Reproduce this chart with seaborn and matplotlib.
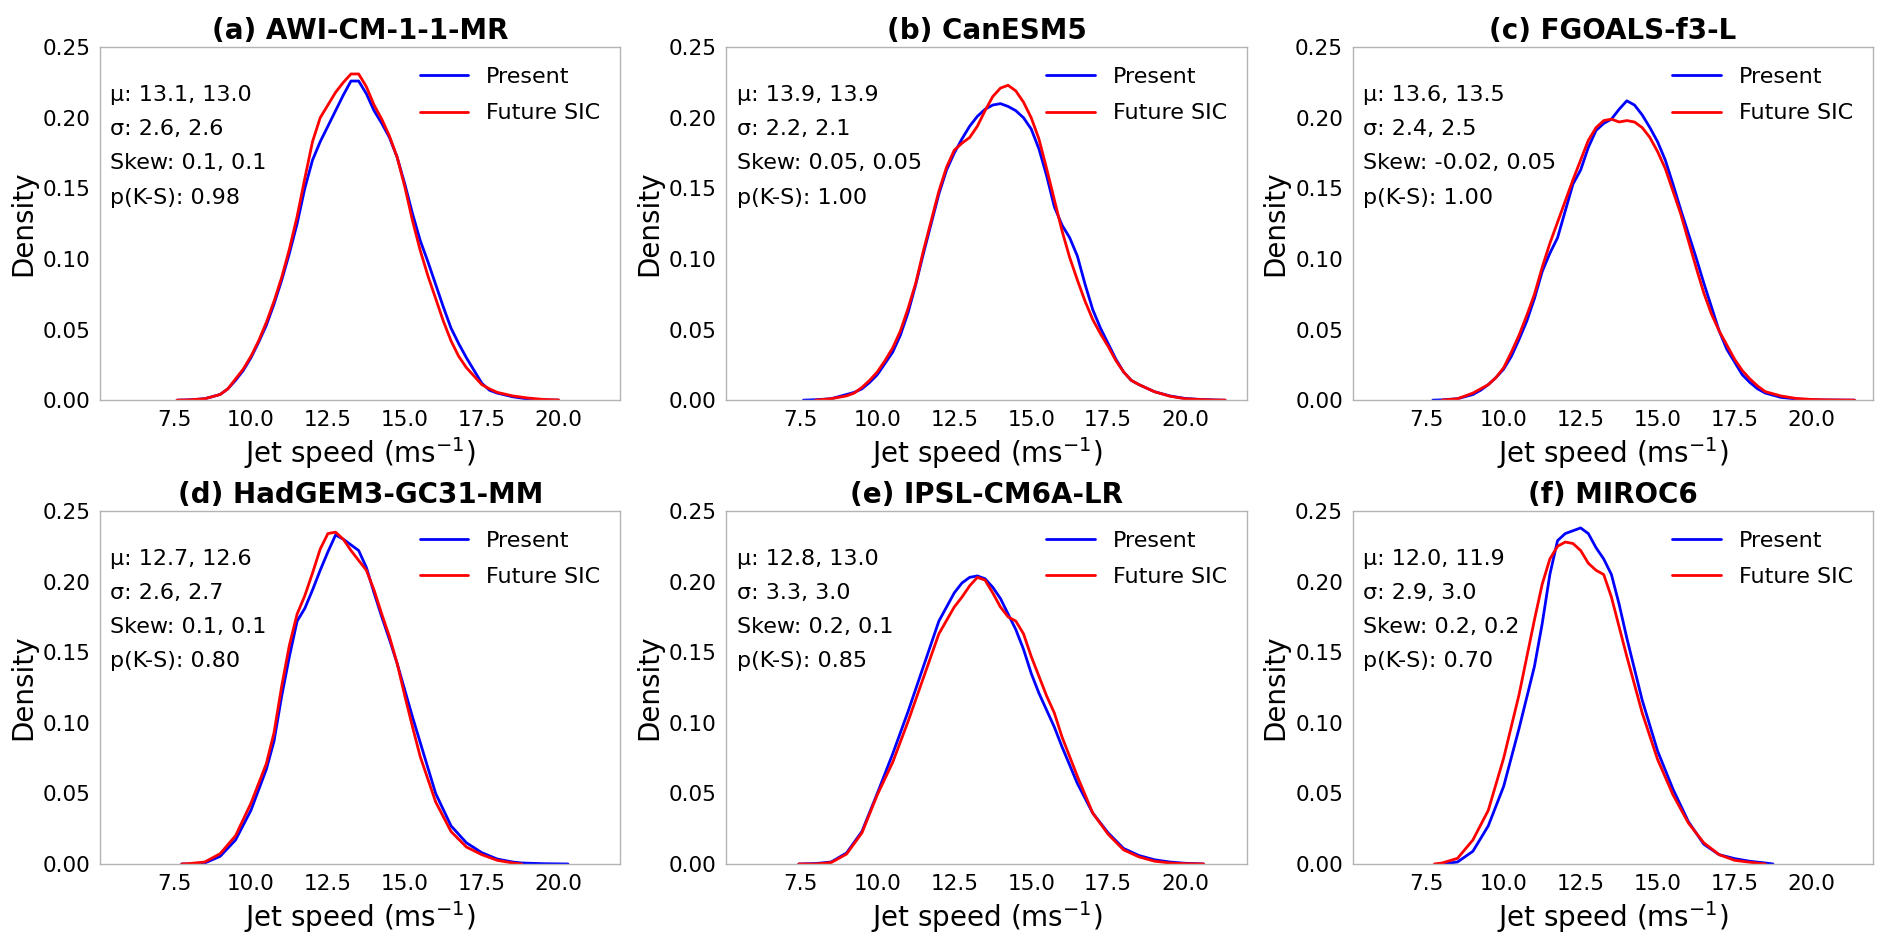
import numpy as np
import pandas as pd
import matplotlib
matplotlib.use("Agg")
import matplotlib.pyplot as plt
import seaborn as sns

nan = np.nan

# DATA (densities)
titles = ["(a) AWI-CM-1-1-MR", "(b) CanESM5", "(c) FGOALS-f3-L",
          "(d) HadGEM3-GC31-MM", "(e) IPSL-CM6A-LR", "(f) MIROC6"]

mu_present = ["13.1", "13.9", "13.6", "12.7", "12.8", "12.0"]
mu_future = ["13.0", "13.9", "13.5", "12.6", "13.0", "11.9"]
sd_present = ["2.6", "2.2", "2.4", "2.6", "3.3", "2.9"]
sd_future = ["2.6", "2.1", "2.5", "2.7", "3.0", "3.0"]
skew_present = ["0.1", "0.05", "-0.02", "0.1", "0.2", "0.2"]
skew_future = ["0.1", "0.05", "0.05", "0.1", "0.1", "0.2"]
p_ks = ["0.98", "1.00", "1.00", "0.80", "0.85", "0.70"]

#(a) AWI-CM-1-1-MR
a_x = [7.6, 8.0, 8.5, 9.0, 9.25, 9.5, 9.75, 10.0, 10.25, 10.5, 10.75, 11.0, 11.25, 11.5, 11.75,
       12.0, 12.25, 12.5, 12.75, 13.0, 13.25, 13.5, 13.75, 14.0, 14.25, 14.5, 14.75, 15.0, 15.25,
       15.5, 15.75, 16.0, 16.25, 16.5, 16.75, 17.0, 17.25, 17.5, 17.75, 18.0, 18.5, 19.0, 19.5, 20.0]
a_present = [0, 0.0002, 0.001, 0.004, 0.008, 0.014, 0.021, 0.030, 0.041, 0.053, 0.068, 0.085, 0.104,
             0.125, 0.150, 0.170, 0.183, 0.194, 0.205, 0.216, 0.226, 0.226, 0.217, 0.205, 0.196,
             0.186, 0.172, 0.153, 0.132, 0.113, 0.098, 0.082, 0.066, 0.051, 0.040, 0.030, 0.021,
             0.012, 0.007, 0.005, 0.0024, 0.0008, 0.0002, 0]
a_future = [0, 0.0002, 0.001, 0.004, 0.008, 0.015, 0.022, 0.031, 0.042, 0.055, 0.070, 0.087, 0.107,
            0.130, 0.157, 0.183, 0.200, 0.209, 0.218, 0.225, 0.231, 0.231, 0.222, 0.209, 0.199,
            0.187, 0.172, 0.151, 0.127, 0.106, 0.088, 0.072, 0.056, 0.042, 0.031, 0.023, 0.017,
            0.011, 0.008, 0.0055, 0.003, 0.0015, 0.0005, 0.0001]

#(b) CanESM5
b_x = [7.6, 8.0, 8.5, 9.0, 9.25, 9.5, 9.75, 10.0, 10.25, 10.5, 10.75, 11.0, 11.25, 11.5, 11.75,
       12.0, 12.25, 12.5, 12.75, 13.0, 13.25, 13.5, 13.75, 14.0, 14.25, 14.5, 14.75, 15.0, 15.25,
       15.5, 15.75, 16.0, 16.25, 16.5, 16.75, 17.0, 17.25, 17.5, 17.75, 18.0, 18.25, 18.5, 19.0,
       19.5, 20.0, 20.5, 21.0, 21.3]
b_present = [0, 0.0003, 0.001, 0.004, 0.0055, 0.008, 0.0125, 0.018, 0.026, 0.034, 0.046, 0.062,
             0.082, 0.104, 0.125, 0.146, 0.163, 0.175, 0.185, 0.194, 0.201, 0.206, 0.209, 0.210,
             0.208, 0.205, 0.200, 0.192, 0.178, 0.159, 0.137, 0.124, 0.115, 0.102, 0.082, 0.064,
             0.051, 0.040, 0.029, 0.020, 0.014, 0.011, 0.006, 0.003, 0.0012, 0.0005, 0.0001, 0]
b_future = [nan, 0, 0.001, 0.003, 0.005, 0.009, 0.014, 0.020, 0.028, 0.037, 0.049, 0.065, 0.083,
            0.106, 0.127, 0.148, 0.165, 0.177, 0.182, 0.186, 0.194, 0.205, 0.215, 0.221, 0.223,
            0.219, 0.211, 0.200, 0.185, 0.164, 0.142, 0.120, 0.101, 0.085, 0.070, 0.057, 0.047,
            0.038, 0.028, 0.020, 0.014, 0.011, 0.006, 0.0028, 0.001, 0.0004, 0.0001, 0]

#(c) FGOALS-f3-L
c_x = [7.7, 8.0, 8.5, 9.0, 9.25, 9.5, 9.75, 10.0, 10.25, 10.5, 10.75, 11.0, 11.25, 11.5, 11.75,
       12.0, 12.25, 12.5, 12.75, 13.0, 13.25, 13.5, 13.75, 14.0, 14.25, 14.5, 14.75, 15.0, 15.25,
       15.5, 15.75, 16.0, 16.25, 16.5, 16.75, 17.0, 17.25, 17.5, 17.75, 18.0, 18.25, 18.5, 19.0,
       19.5, 20.0, 20.5, 21.4]
c_present = [0, 0.0002, 0.001, 0.004, 0.007, 0.011, 0.016, 0.022, 0.031, 0.043, 0.056, 0.072,
             0.091, 0.104, 0.115, 0.134, 0.153, 0.163, 0.179, 0.191, 0.196, 0.199, 0.206, 0.212,
             0.209, 0.202, 0.193, 0.183, 0.170, 0.153, 0.135, 0.118, 0.101, 0.083, 0.066, 0.049,
             0.036, 0.027, 0.018, 0.0125, 0.008, 0.005, 0.002, 0.0008, 0.0003, 0.0001, 0]
c_future = [nan, 0, 0.001, 0.005, 0.008, 0.011, 0.016, 0.023, 0.034, 0.046, 0.060, 0.075, 0.094,
            0.111, 0.126, 0.141, 0.156, 0.170, 0.184, 0.193, 0.198, 0.199, 0.197, 0.198, 0.197,
            0.193, 0.186, 0.176, 0.164, 0.148, 0.132, 0.113, 0.094, 0.076, 0.061, 0.049, 0.039,
            0.029, 0.021, 0.015, 0.010, 0.006, 0.003, 0.0012, 0.0005, 0.0002, 0]

#(d) HadGEM3-GC31-MM
d_x = [7.75, 8.0, 8.5, 9.0, 9.5, 10.0, 10.5, 10.75, 11.0, 11.25, 11.5, 11.75, 12.0, 12.25, 12.5,
       12.75, 13.0, 13.25, 13.5, 13.75, 14.0, 14.25, 14.5, 14.75, 15.0, 15.25, 15.5, 16.0, 16.5,
       17.0, 17.5, 18.0, 18.5, 18.8, 19.5, 20.3]
d_present = [0, 0, 0.0007, 0.0054, 0.017, 0.038, 0.067, 0.087, 0.119, 0.147, 0.172, 0.181, 0.194,
             0.208, 0.221, 0.233, 0.230, 0.226, 0.222, 0.210, 0.192, 0.175, 0.159, 0.142, 0.123,
             0.104, 0.086, 0.050, 0.027, 0.015, 0.008, 0.0035, 0.0014, 0.0007, 0.0002, 0]
d_future = [0, 0.0003, 0.0014, 0.0073, 0.020, 0.043, 0.071, 0.093, 0.126, 0.155, 0.177, 0.190,
            0.206, 0.223, 0.234, 0.235, 0.230, 0.222, 0.215, 0.208, 0.194, 0.177, 0.161, 0.142,
            0.119, 0.097, 0.076, 0.044, 0.023, 0.012, 0.0066, 0.0026, 0.0007, 0, nan, nan]

#(e) IPSL-CM6A-LR
e_x = [7.45, 8.0, 8.5, 9.0, 9.5, 10.0, 10.5, 11.0, 11.5, 12.0, 12.5, 12.75, 13.0, 13.25, 13.5,
       13.75, 14.0, 14.25, 14.5, 14.75, 15.0, 15.25, 15.5, 15.75, 16.0, 16.5, 17.0, 17.5, 18.0,
       18.5, 19.0, 19.5, 20.0, 20.6]
e_present = [0, 0.0003, 0.0014, 0.0078, 0.023, 0.050, 0.078, 0.108, 0.140, 0.172, 0.192, 0.199,
             0.203, 0.204, 0.202, 0.196, 0.188, 0.177, 0.166, 0.152, 0.135, 0.121, 0.109, 0.097,
             0.083, 0.057, 0.036, 0.022, 0.011, 0.006, 0.003, 0.0014, 0.0005, 0]
e_future = [0, 0, 0.001, 0.007, 0.022, 0.049, 0.072, 0.101, 0.132, 0.163, 0.182, 0.189, 0.197,
            0.203, 0.201, 0.192, 0.182, 0.175, 0.172, 0.163, 0.147, 0.133, 0.119, 0.107, 0.090,
            0.062, 0.036, 0.021, 0.010, 0.005, 0.002, 0.0007, 0.0002, 0]

#(f) MIROC6
f_x = [7.75, 8.0, 8.5, 9.0, 9.5, 10.0, 10.5, 11.0, 11.25, 11.5, 11.75, 12.0, 12.25, 12.5, 12.75,
       13.0, 13.25, 13.5, 13.75, 14.0, 14.5, 15.0, 15.5, 16.0, 16.5, 17.0, 17.5, 18.0, 18.5, 18.75]
f_present = [nan, 0, 0.0014, 0.009, 0.027, 0.055, 0.096, 0.140, 0.170, 0.205, 0.229, 0.234,
             0.236, 0.238, 0.234, 0.224, 0.216, 0.205, 0.184, 0.160, 0.116, 0.080, 0.053, 0.030,
             0.014, 0.0066, 0.0038, 0.0019, 0.0007, 0]
f_future = [0, 0.0007, 0.004, 0.017, 0.038, 0.075, 0.120, 0.173, 0.198, 0.216, 0.225, 0.228,
            0.227, 0.222, 0.213, 0.208, 0.205, 0.189, 0.168, 0.147, 0.107, 0.074, 0.049, 0.029,
            0.015, 0.0066, 0.0026, 0.0012, 0, nan]

xs = [a_x, b_x, c_x, d_x, e_x, f_x]
present = [a_present, b_present, c_present, d_present, e_present, f_present]
future = [a_future, b_future, c_future, d_future, e_future, f_future]

#PLOTTING
sns.set_style("white", {"axes.edgecolor": "#b3b3b3", "text.color": "black",
                        "axes.labelcolor": "black", "xtick.color": "black",
                        "ytick.color": "black"})
plt.rcParams['font.family'] = ['DejaVu Sans']
plt.rcParams['axes.linewidth'] = 1.0

fig, axes = plt.subplots(2, 3, figsize=(18.92, 9.43), dpi=100)
fig.subplots_adjust(left=0.0529, right=0.990, top=0.950, bottom=0.0838, wspace=0.204, hspace=0.314)

for i, ax in enumerate(axes.flat):
    df = pd.concat([
        pd.DataFrame({"speed": xs[i], "density": present[i], "run": "Present"}),
        pd.DataFrame({"speed": xs[i], "density": future[i], "run": "Future SIC"}),
    ], ignore_index=True)
    sns.lineplot(data=df, x="speed", y="density", hue="run",
                 palette={"Present": "blue", "Future SIC": "red"},
                 linewidth=2, ax=ax)
    sns.move_legend(ax, "upper right", title=None, frameon=False, fontsize=16,
                    labelspacing=0.73, handlelength=2.2)

    stats = (f"μ: {mu_present[i]}, {mu_future[i]}\n"
             f"σ: {sd_present[i]}, {sd_future[i]}\n"
             f"Skew: {skew_present[i]}, {skew_future[i]}\n"
             f"p(K-S): {p_ks[i]}")
    ax.text(0.02, 0.892, stats, transform=ax.transAxes, va="top", ha="left",
            fontsize=16, linespacing=1.88)

    ax.set_title(titles[i], fontsize=20, fontweight="bold")
    ax.set_xlabel("Jet speed (ms$^{-1}$)", fontsize=20)
    ax.set_ylabel("Density", fontsize=20)
    ax.set_xlim(5.1, 22.0)
    ax.set_ylim(0, 0.25)
    ax.set_xticks([7.5, 10.0, 12.5, 15.0, 17.5, 20.0])
    ax.set_xticklabels(["7.5", "10.0", "12.5", "15.0", "17.5", "20.0"])
    ax.set_yticks([0, 0.05, 0.10, 0.15, 0.20, 0.25])
    ax.set_yticklabels(["0.00", "0.05", "0.10", "0.15", "0.20", "0.25"])
    ax.tick_params(labelsize=15.5)

plt.savefig("out.png", dpi=100)
